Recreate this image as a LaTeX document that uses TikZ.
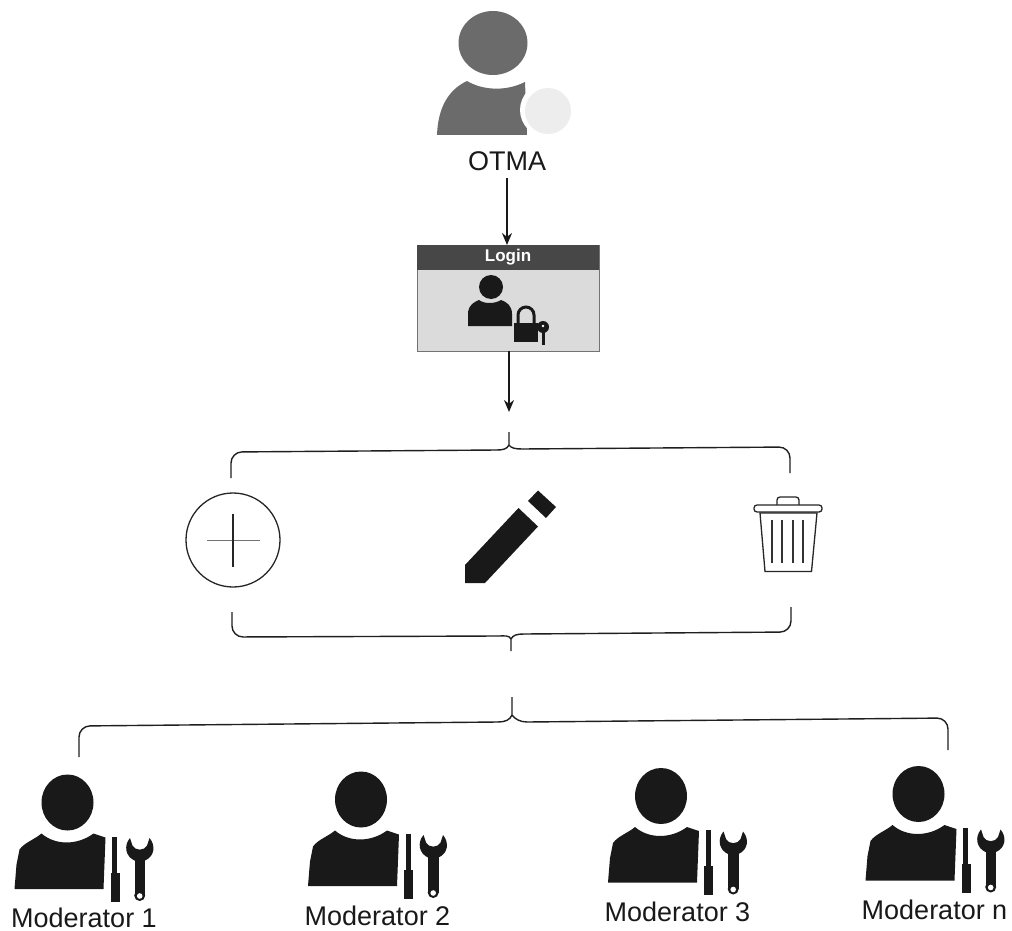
\documentclass[tikz,border=0pt]{standalone}
\usepackage{fontspec}
\setmainfont{Liberation Sans}
\usetikzlibrary{arrows.meta}
\tikzset{
  x=1pt,y=-1pt,
  label text/.style={inner sep=0pt,font=\fontsize{27}{30}\selectfont,text=black!90},
  flow/.style={draw=black!90,line width=1.4pt,-{Stealth[length=12pt,width=10pt]}},
  brace/.style={draw=black!88,line width=1.4pt,rounded corners=11pt},
  bracestem/.style={draw=black!88,line width=1.4pt},
  solidicon/.style={fill=black!90,draw=none},
  otmagray/.style={fill=black!58,draw=none},
  outline/.style={draw=black!85,line width=1.3pt,fill=white},
  moderator/.pic={
    \fill[solidicon] (0,0) ellipse [x radius=26,y radius=28];
    \fill[solidicon] (-53,86.5) -- (-51,62) -- (-48,47) .. controls (-43,40) and (-33,37) .. (-26,31)
       .. controls (-18,38) and (-8,40) .. (-1,40) .. controls (8,40) and (18,37) .. (26,31)
       -- (38,35) -- (36,86.5) -- cycle;
    \fill[solidicon] (44.5,34) rectangle (49.5,70);
    \fill[solidicon] (43,70) rectangle (52,99);
    \fill[solidicon] (67,56) rectangle (77.5,93);
    \fill[solidicon] (72.2,93) circle (5.5);
    \fill[solidicon] (62.5,35.5) .. controls (56,43) and (58,54) .. (67,58) -- (77.5,58)
       .. controls (87,54) and (88.5,43) .. (82,35.5) -- (79.5,43)
       .. controls (77,48.5) and (67.5,48.5) .. (65,43) -- cycle;
    \fill[white] (72.2,93.5) circle (2.8);
  }
}
\begin{document}
\begin{tikzpicture}
\useasboundingbox (0,0) rectangle (1012,931);
\fill[white] (0,0) rectangle (1012,931);

% OTMA icon
\fill[otmagray] (493,43) ellipse [x radius=34.5,y radius=32];
\fill[otmagray] (437,135) .. controls (438,108) and (448,90) .. (467,81)
   .. controls (482,90) and (505,92) .. (525,82) -- (527,135) -- cycle;
\fill[white] (547,110) circle (27);
\fill[black!7] (548,111) circle (23);
\node[label text] (otma) at (507,161) {OTMA};

% Login panel
\node[draw=black!55,line width=1pt,fill=black!14,minimum width=182pt,minimum height=106pt,inner sep=0pt,anchor=north west] (login) at (417,245) {};
\fill[black!72] (417,245) rectangle (599,270);
\node[inner sep=0pt,font=\bfseries\fontsize{17}{19}\selectfont,text=white] (logintitle) at (508,257) {Login};
\fill[solidicon] (491,287) circle (12);
\fill[solidicon] (468,326) -- (468,312) .. controls (469,305) and (474,302) .. (479,300)
   .. controls (484,304) and (495,304) .. (501,300) .. controls (507,302) and (512,306) .. (512,314) -- (512,326) -- cycle;
\fill[solidicon] (514,323) rectangle (538,342);
\draw[black!90,line width=3pt] (518,323) -- (518,315) arc [start angle=180,end angle=360,radius=8] -- (534,323);
\fill[solidicon] (543,327) circle (6);
\fill[solidicon] (541.5,330) rectangle (544.5,345);
\fill[white] (543,326) circle (1.3);

% Flow arrows
\coordinate (otmaOut) at (507,178);
\coordinate (loginIn) at (507,245);
\coordinate (loginOut) at (509,351);
\coordinate (loginArrowEnd) at (509,412);
\draw[flow] (otmaOut) -- (loginIn);
\draw[flow] (loginOut) -- (loginArrowEnd);

% Upper brace
\coordinate (upL) at (231,478);
\coordinate (upC) at (231,452);
\coordinate (upLm) at (497,450);
\coordinate (upJ) at (509,445);
\coordinate (upTop) at (509,432);
\coordinate (upRm) at (522,449);
\coordinate (upD) at (790,447);
\coordinate (upR) at (790,473);
\draw[brace] (upL) -- (upC) -- (upLm);
\draw[bracestem] (upLm) .. controls (503,450) and (507,449) .. (upJ) -- (upTop);
\draw[bracestem] (upJ) .. controls (511,448) and (515,449) .. (upRm);
\draw[brace] (upRm) -- (upD) -- (upR);

% Operation icons
\node[draw=black!85,line width=1.3pt,circle,minimum size=94pt,inner sep=0pt] (add) at (233,540) {};
\draw[black!55,line width=.7pt] (207,540) -- (260,540);
\draw[black!85,line width=1.4pt] (233,514) -- (233,567);

\fill[solidicon] (465,565) -- (518.5,508) -- (538,526.5) -- (485,583) -- (465,583) -- cycle;
\fill[solidicon] (538,490.5) -- (556,507) -- (546,518) -- (528,501) -- cycle;

\draw[outline,rounded corners=3pt] (777,497) rectangle (799,508);
\draw[outline,rounded corners=3pt] (754,505) rectangle (822,512);
\draw[outline] (760,513) -- (765,571.5) -- (811.5,571.5) -- (817,513) -- cycle;
\foreach \lx in {772,782,793,803} \draw[black!80,line width=1.1pt] (\lx,520) -- (\lx,563);

% Lower brace
\coordinate (loL) at (232,612);
\coordinate (loC) at (232,637);
\coordinate (loLm) at (498,636);
\coordinate (loJ) at (511,639);
\coordinate (loBot) at (511,651);
\coordinate (loRm) at (524,634);
\coordinate (loD) at (791,632);
\coordinate (loR) at (791,607);
\draw[brace] (loL) -- (loC) -- (loLm);
\draw[bracestem] (loLm) .. controls (505,636) and (509,635) .. (loJ) -- (loBot);
\draw[bracestem] (loJ) .. controls (513,635) and (517,634) .. (loRm);
\draw[brace] (loRm) -- (loD) -- (loR);

% Moderators brace
\coordinate (moL) at (79,757);
\coordinate (moC) at (79,726);
\coordinate (moLm) at (498,722);
\coordinate (moJ) at (512,715);
\coordinate (moTop) at (512,697);
\coordinate (moRm) at (527,722);
\coordinate (moD) at (948,718);
\coordinate (moR) at (948,750);
\draw[brace] (moL) -- (moC) -- (moLm);
\draw[bracestem] (moLm) .. controls (505,722) and (510,720) .. (moJ) -- (moTop);
\draw[bracestem] (moJ) .. controls (515,719) and (520,722) .. (moRm);
\draw[brace] (moRm) -- (moD) -- (moR);

% Moderators
\pic at (67.5,802.5) {moderator};
\pic at (361,799.5) {moderator};
\pic at (661,796) {moderator};
\pic at (918.5,794) {moderator};
\node[label text] (m1) at (84,918) {Moderator 1};
\node[label text] (m2) at (377.5,916) {Moderator 2};
\node[label text] (m3) at (677.5,912) {Moderator 3};
\node[label text] (mn) at (934.5,910) {Moderator n};
\end{tikzpicture}
\end{document}
